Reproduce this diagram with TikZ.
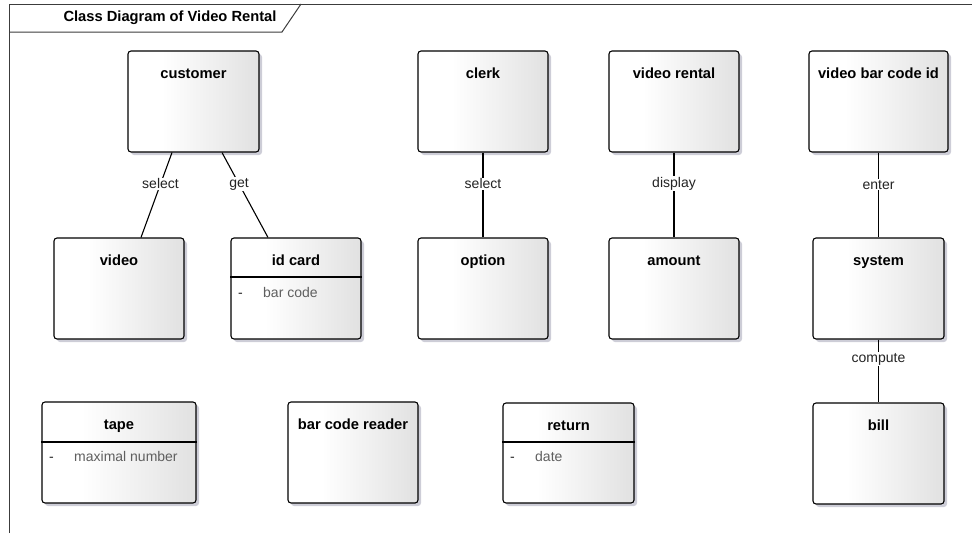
\documentclass[tikz,border=0pt]{standalone}
\usepackage{fontspec}
\setmainfont{Liberation Sans}
\usetikzlibrary{shadows,calc}
\definecolor{shadowc}{RGB}{205,205,215}
\definecolor{boxright}{RGB}{225,225,225}
\definecolor{labelc}{RGB}{35,35,35}
\definecolor{attrc}{RGB}{95,95,95}
\definecolor{framec}{RGB}{60,60,60}
\pgfdeclarehorizontalshading{clsshade}{100bp}{color(0bp)=(white); color(25bp)=(white); color(38bp)=(white); color(75bp)=(boxright); color(100bp)=(boxright)}
\tikzset{
  cls/.style={draw=black, line width=1.1pt, rounded corners=3pt, shading=clsshade,
    drop shadow={shadow xshift=3pt, shadow yshift=-3pt, fill=shadowc, opacity=1},
    inner sep=0pt, minimum width=#1, minimum height=101pt},
  cls/.default=130pt,
  clsname/.style={font=\fontsize{14.7}{17}\selectfont\bfseries, text=black, inner sep=0pt, anchor=base},
  attr/.style={font=\fontsize{14}{17}\selectfont, text=attrc, inner sep=0pt, anchor=base west},
  dashmark/.style={font=\fontsize{14}{17}\selectfont, text=labelc, inner sep=0pt, anchor=base west},
  sep/.style={draw=black, line width=1.1pt},
  assoc/.style={draw=black, line width=1.1pt},
  alabel/.style={font=\fontsize{14}{17}\selectfont, text=labelc, fill=white, inner sep=1pt}
}
\begin{document}
\begin{tikzpicture}[x=1pt,y=-1pt]
\useasboundingbox (0,0) rectangle (972,533);
% frame
\draw[framec, line width=1pt] (9,533) -- (9,4) -- (972,4);
\draw[framec, line width=1pt] (9,32) -- (282,32) -- (301,4);
\node[clsname, anchor=center] (frametitle) at (170,18) {Class Diagram of Video Rental};

% classes
\node[cls=131pt] (customer) at (193.5,101.5) {};
\node[clsname] (customerN) at ([yshift=-28pt]customer.north) {customer};
\node[cls] (video) at (119,288.5) {};
\node[clsname] (videoN) at ([yshift=-28pt]video.north) {video};
\node[cls] (idcard) at (296,288.5) {};
\node[clsname] (idcardN) at ([yshift=-28pt]idcard.north) {id card};
\draw[sep] (idcard.west |- 0,277) -- (idcard.east |- 0,277);
\node[dashmark] (idcardA1) at (238,297) {-};
\node[attr] (idcardA2) at (263,297) {bar code};

\node[cls] (clerk) at (483,101.5) {};
\node[clsname] (clerkN) at ([yshift=-28pt]clerk.north) {clerk};
\node[cls] (option) at (483,288.5) {};
\node[clsname] (optionN) at ([yshift=-28pt]option.north) {option};

\node[cls] (vrental) at (674,101.5) {};
\node[clsname] (vrentalN) at ([yshift=-28pt]vrental.north) {video rental};
\node[cls] (amount) at (674,288.5) {};
\node[clsname] (amountN) at ([yshift=-28pt]amount.north) {amount};

\node[cls=139pt] (vbcid) at (878.5,101.5) {};
\node[clsname] (vbcidN) at ([yshift=-28pt]vbcid.north) {video bar code id};
\node[cls=131pt] (system) at (878.5,288.5) {};
\node[clsname] (systemN) at ([yshift=-28pt]system.north) {system};
\node[cls=131pt] (bill) at (878.5,453.5) {};
\node[clsname] (billN) at ([yshift=-28pt]bill.north) {bill};

\node[cls=154pt] (tape) at (119,452.5) {};
\node[clsname] (tapeN) at ([yshift=-28pt]tape.north) {tape};
\draw[sep] (tape.west |- 0,442) -- (tape.east |- 0,442);
\node[dashmark] (tapeA1) at (49,461) {-};
\node[attr] (tapeA2) at (74,461) {maximal number};

\node[cls] (bcreader) at (353,452.5) {};
\node[clsname] (bcreaderN) at ([yshift=-28pt]bcreader.north) {bar code reader};

\node[cls=131pt, minimum height=100pt] (return) at (568.5,453) {};
\node[clsname] (returnN) at ([yshift=-28pt]return.north) {return};
\draw[sep] (return.west |- 0,442) -- (return.east |- 0,442);
\node[dashmark] (returnA1) at (510,461) {-};
\node[attr] (returnA2) at (535,461) {date};

% associations
\draw[assoc] ([xshift=-21.5pt]customer.south) -- node[alabel, pos=0.37] {select} ([xshift=22pt]video.north);
\draw[assoc] ([xshift=28.5pt]customer.south) -- node[alabel, pos=0.37] {get} ([xshift=-28pt]idcard.north);
\draw[assoc] (clerk.south) -- node[alabel, pos=0.37] {select} (option.north);
\draw[assoc] (vrental.south) -- node[alabel, pos=0.37] {display} (amount.north);
\draw[assoc] (vbcid.south) -- node[alabel, pos=0.38] {enter} (system.north);
\draw[assoc] (system.south) -- node[alabel, pos=0.31] {compute} (bill.north);
\end{tikzpicture}
\end{document}
